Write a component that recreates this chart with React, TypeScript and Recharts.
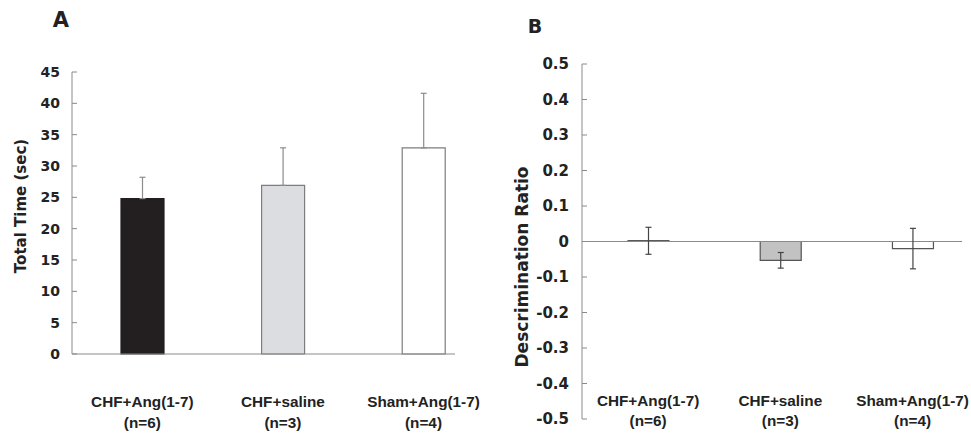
import React from "react";
import { BarChart, Bar, XAxis, YAxis, ErrorBar, ReferenceLine, Cell } from "recharts";

// groups shared by both panels
const groups = ["CHF+Ang(1-7)", "CHF+saline", "Sham+Ang(1-7)"];
const groupN = ["(n=6)", "(n=3)", "(n=4)"];

// panel A: total exploration time, mean + SEM (upper only)
const totalTime = [24.8, 26.9, 32.9];
const totalTimeSem = [3.4, 6.0, 8.7];
const timeTicks = [0, 5, 10, 15, 20, 25, 30, 35, 40, 45];

// panel B: discrimination ratio, mean ± SEM
const discRatio = [0.002, -0.053, -0.02];
const discRatioSem = [0.038, 0.022, 0.057];
const ratioTicks = [0.5, 0.4, 0.3, 0.2, 0.1, 0, -0.1, -0.2, -0.3, -0.4, -0.5];

const fillsA = ["#231f20", "#dcdde0", "#ffffff"];
const strokesA = ["#231f20", "#7d7d7d", "#7d7d7d"];
const fillsB = ["#333333", "#c2c2c2", "#ffffff"];
const strokesB = ["#333333", "#555555", "#555555"];

const dataA = groups.map((g, i) => ({
  x: i + 0.5,
  name: g,
  value: totalTime[i],
  err: [0, totalTimeSem[i]],
}));

const dataB = groups.map((g, i) => ({
  x: i + 0.5,
  name: g,
  value: discRatio[i],
  err: discRatioSem[i],
}));

const catTicks = dataA.map((d) => d.x);

const AXIS = "#8a8a8a";
const TXT = "#222222";
const TICK_FONT_A = { fontFamily: "DejaVu Sans", fontWeight: 700, fontSize: 14, fill: TXT };
const TICK_FONT_B = { fontFamily: "DejaVu Sans", fontWeight: 700, fontSize: 15, fill: TXT };
const CAT_FONT = "Liberation Sans";

function GroupTick(props: any) {
  const { x, y, payload, dy1, dy2 } = props;
  const i = Math.floor(payload.value);
  const style = { fontFamily: CAT_FONT, fontWeight: 700, fontSize: 15.3, fill: TXT };
  return (
    <g>
      <text x={x} y={y + dy1} textAnchor="middle" style={style}>{groups[i]}</text>
      <text x={x} y={y + dy2} textAnchor="middle" style={style}>{groupN[i]}</text>
    </g>
  );
}

export default function App() {
  return (
    <div style={{ position: "absolute", left: 0, top: 0, width: 971, height: 434, background: "#fff" }}>
      <div style={{ position: "absolute", left: 0, top: 0 }}>
        <BarChart width={490} height={434} data={dataA} margin={{ top: 72, right: 35, bottom: 0, left: 0 }}>
          <YAxis
            type="number"
            domain={[0, 45]}
            ticks={timeTicks}
            interval={0}
            width={72}
            axisLine={{ stroke: AXIS }}
            tickLine={{ stroke: AXIS }}
            tickSize={-5}
            tickMargin={17}
            tick={TICK_FONT_A}
          />
          <XAxis
            type="number"
            dataKey="x"
            domain={[0, 2.724]}
            allowDataOverflow
            ticks={catTicks}
            interval={0}
            height={80}
            axisLine={{ stroke: AXIS }}
            tickLine={false}
            tickSize={0}
            tickMargin={0}
            tick={(p: any) => <GroupTick {...p} dy1={53} dy2={74} />}
          />
          <Bar dataKey="value" barSize={43} isAnimationActive={false} strokeWidth={1.2}>
            {dataA.map((d, i) => (
              <Cell key={d.name} fill={fillsA[i]} stroke={strokesA[i]} />
            ))}
            <ErrorBar dataKey="err" direction="y" width={3} stroke="#8c8c8c" strokeWidth={1.2} isAnimationActive={false} />
          </Bar>
        </BarChart>
      </div>

      <div style={{ position: "absolute", left: 490, top: 0 }}>
        <BarChart width={481} height={434} data={dataB} margin={{ top: 64, right: 9, bottom: 0, left: 0 }}>
          <YAxis
            type="number"
            domain={[-0.5, 0.5]}
            ticks={ratioTicks}
            interval={0}
            width={92}
            axisLine={{ stroke: AXIS }}
            tickLine={{ stroke: AXIS }}
            tickSize={-5}
            tickMargin={18}
            tick={TICK_FONT_B}
          />
          <XAxis
            type="number"
            dataKey="x"
            domain={[0, 2.874]}
            allowDataOverflow
            ticks={catTicks}
            interval={0}
            height={15}
            axisLine={false}
            tickLine={false}
            tickSize={0}
            tickMargin={0}
            tick={(p: any) => <GroupTick {...p} dy1={-13} dy2={7} />}
          />
          <ReferenceLine y={0} stroke={AXIS} strokeWidth={1.2} />
          <Bar dataKey="value" barSize={41} isAnimationActive={false} strokeWidth={1.2}>
            {dataB.map((d, i) => (
              <Cell key={d.name} fill={fillsB[i]} stroke={strokesB[i]} />
            ))}
            <ErrorBar dataKey="err" direction="y" width={3} stroke="#444444" strokeWidth={1.2} isAnimationActive={false} />
          </Bar>
        </BarChart>
      </div>

      <svg width={971} height={434} style={{ position: "absolute", left: 0, top: 0, pointerEvents: "none" }}>
        <text x={61} y={27} textAnchor="middle" style={{ fontFamily: "DejaVu Sans", fontWeight: 700, fontSize: 21, fill: TXT }}>A</text>
        <text x={535} y={33} textAnchor="middle" style={{ fontFamily: "DejaVu Sans", fontWeight: 700, fontSize: 19, fill: TXT }}>B</text>
        <text
          transform="translate(26, 206) rotate(-90)"
          textAnchor="middle"
          style={{ fontFamily: "DejaVu Sans", fontWeight: 700, fontSize: 15, fill: TXT }}
        >
          Total Time (sec)
        </text>
        <text
          transform="translate(528, 267) rotate(-90)"
          textAnchor="middle"
          style={{ fontFamily: "DejaVu Sans", fontWeight: 700, fontSize: 17, fill: TXT }}
        >
          Descrimination Ratio
        </text>
      </svg>
    </div>
  );
}
